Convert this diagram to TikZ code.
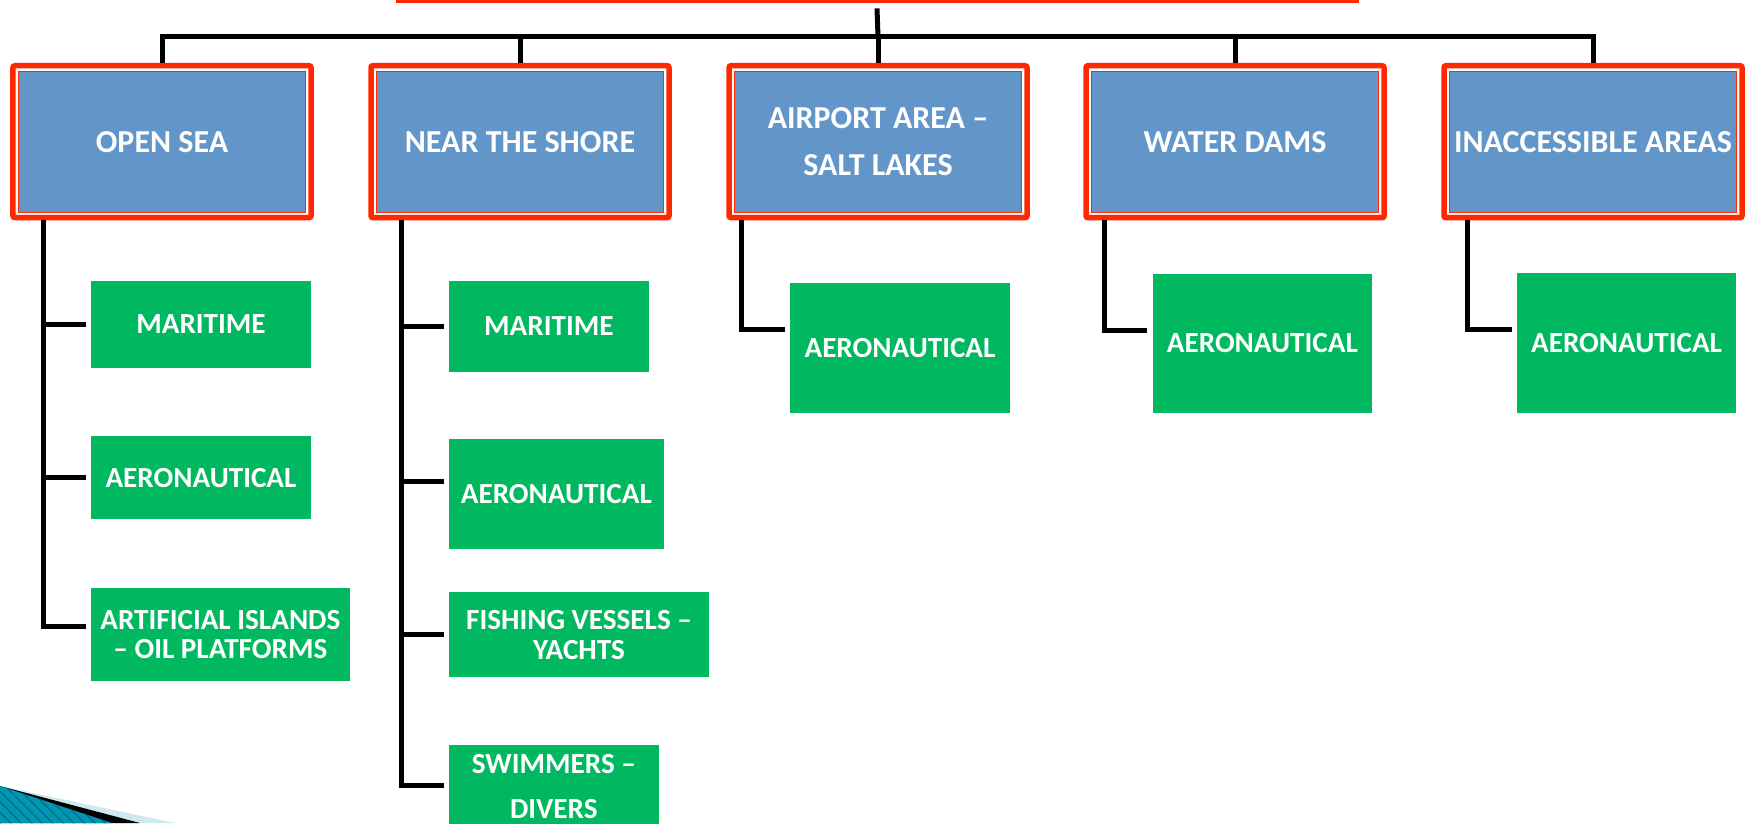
\documentclass[tikz,border=0pt]{standalone}
\usepackage{fontspec}
\setmainfont{Carlito}
\usetikzlibrary{patterns}
\definecolor{areablue}{RGB}{98,150,200}
\definecolor{usegreen}{RGB}{0,184,96}
\definecolor{framered}{RGB}{255,40,0}
\definecolor{swoosh}{RGB}{0,150,180}
\definecolor{swooshlight}{RGB}{208,232,242}

\begin{document}
\begin{tikzpicture}[
  area/.style={rectangle, fill=areablue, draw=framered, line width=0.01cm,
    minimum width=2.87cm, minimum height=1.41cm, inner sep=0pt, outer sep=0.08cm,
    text=white, align=center, font=\fontsize{9.1}{13.4}\selectfont\bfseries},
  ring/.style={draw=framered, line width=0.055cm, rounded corners=0.02cm},
  usage/.style={rectangle, fill=usegreen, inner sep=0pt, outer sep=0.055cm,
    text=white, align=center, font=\fontsize{8.3}{8.5}\selectfont\bfseries},
  link/.style={draw=black, line width=0.05cm}
]
\useasboundingbox (0,0) rectangle (17.53,-8.23);

\fill[swooshlight] (0,-7.86) -- (1.75,-8.23) -- (0,-8.23) -- cycle;
\fill[black] (0,-7.86) -- (1.40,-8.23) -- (0,-8.23) -- cycle;
\fill[swoosh] (0,-7.86) -- (1.12,-8.23) -- (0,-8.23) -- cycle;
\fill[pattern=north west lines, pattern color=swoosh!75!black] (0,-7.86) -- (1.12,-8.23) -- (0,-8.23) -- cycle;

\node[draw=framered, line width=0.03cm, minimum width=9.6cm, minimum height=1cm, outer sep=0.07cm] (root) at (8.77,0.4865) {};

\node[area] (b1) at (1.62,-1.417) {OPEN SEA};
\node[area] (b2) at (5.20,-1.417) {NEAR THE SHORE};
\node[area] (b3) at (8.78,-1.417) {AIRPORT AREA --\\SALT LAKES};
\node[area] (b4) at (12.35,-1.417) {WATER DAMS};
\node[area] (b5) at (15.93,-1.417) {INACCESSIBLE AREAS};
\foreach \b in {b1,b2,b3,b4,b5}
  \draw[ring] ([shift={(0.025,-0.025)}]\b.north west) rectangle ([shift={(-0.025,0.025)}]\b.south east);

\node[usage, minimum width=2.2cm, minimum height=0.876cm] (g11) at (2.01,-3.245) {MARITIME};
\node[usage, minimum width=2.2cm, minimum height=0.833cm] (g12) at (2.01,-4.777) {AERONAUTICAL};
\node[usage, minimum width=2.587cm, minimum height=0.924cm] (g13) at (2.2035,-6.345) {ARTIFICIAL ISLANDS\\-- OIL PLATFORMS};
\node[usage, minimum width=1.997cm, minimum height=0.91cm] (g21) at (5.4885,-3.262) {MARITIME};
\node[usage, minimum width=2.147cm, minimum height=1.097cm] (g22) at (5.5635,-4.942) {AERONAUTICAL};
\node[usage, minimum width=2.6cm, minimum height=0.85cm] (g23) at (5.79,-6.348) {FISHING VESSELS --\\YACHTS};
\node[usage, minimum width=2.097cm, minimum height=0.84cm, font=\fontsize{8.3}{12.8}\selectfont\bfseries] (g24) at (5.5385,-7.87) {SWIMMERS --\\DIVERS};
\node[usage, minimum width=2.2cm, minimum height=1.302cm] (g3) at (9.00,-3.476) {AERONAUTICAL};
\node[usage, minimum width=2.193cm, minimum height=1.385cm] (g4) at (12.6235,-3.4325) {AERONAUTICAL};
\node[usage, minimum width=2.19cm, minimum height=1.395cm] (g5) at (16.265,-3.4275) {AERONAUTICAL};

\coordinate (bus) at (8.78,-0.368);
\coordinate (s1) at (0.433,0);
\coordinate (s2) at (4.017,0);
\coordinate (s3) at (7.417,0);
\coordinate (s4) at (11.046,0);
\coordinate (s5) at (14.67,0);

\draw[link] (root.south) -- (bus);
\draw[link] (b1.north) |- (bus) -| (b5.north);
\foreach \b in {b2,b3,b4}
  \draw[link] (\b.north |- bus) -- (\b.north);

\draw[link] (b1.south -| s1) |- (g11.west);
\draw[link] (b1.south -| s1) |- (g12.west);
\draw[link] (b1.south -| s1) |- ([yshift=0.078cm]g13.west);
\draw[link] (b2.south -| s2) |- (g21.west);
\draw[link] (b2.south -| s2) |- ([yshift=0.13cm]g22.west);
\draw[link] (b2.south -| s2) |- (g23.west);
\draw[link] (b2.south -| s2) |- ([yshift=0.02cm]g24.west);
\draw[link] (b3.south -| s3) |- ([yshift=0.186cm]g3.west);
\draw[link] (b4.south -| s4) |- ([yshift=0.13cm]g4.west);
\draw[link] (b5.south -| s5) |- ([yshift=0.13cm]g5.west);
\end{tikzpicture}
\end{document}
